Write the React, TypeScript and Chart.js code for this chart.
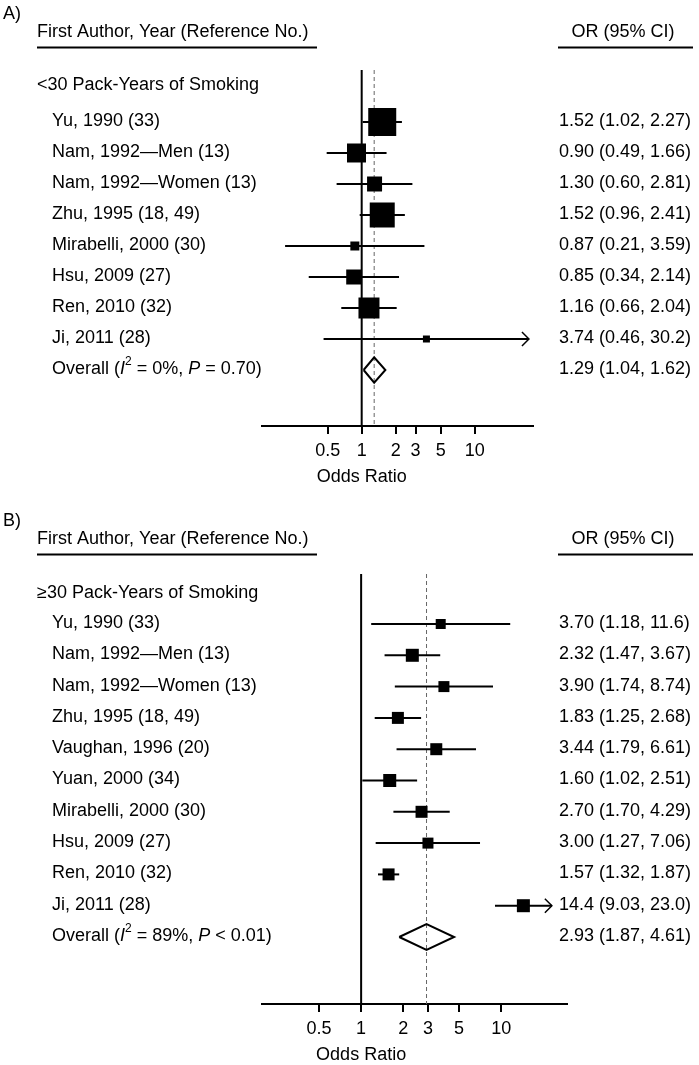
import React, { useEffect, useRef } from "react";
import { Chart, registerables } from "chart.js";

Chart.register(...registerables);

const FONT = '"Liberation Sans", Arial, Helvetica, sans-serif';

// ---------- Panel A data ----------
const sectionA = "<30 Pack-Years of Smoking";
const studiesA = [
  "Yu, 1990 (33)",
  "Nam, 1992\u2014Men (13)",
  "Nam, 1992\u2014Women (13)",
  "Zhu, 1995 (18, 49)",
  "Mirabelli, 2000 (30)",
  "Hsu, 2009 (27)",
  "Ren, 2010 (32)",
  "Ji, 2011 (28)",
];
const orA = [1.52, 0.9, 1.3, 1.52, 0.87, 0.85, 1.16, 3.74];
const lowerA = [1.02, 0.49, 0.6, 0.96, 0.21, 0.34, 0.66, 0.46];
const upperA = [2.27, 1.66, 2.81, 2.41, 3.59, 2.14, 2.04, 30.2];
const weightA = [28, 19, 15, 25, 9, 15, 21, 7];
const ciTextA = [
  "1.52 (1.02, 2.27)",
  "0.90 (0.49, 1.66)",
  "1.30 (0.60, 2.81)",
  "1.52 (0.96, 2.41)",
  "0.87 (0.21, 3.59)",
  "0.85 (0.34, 2.14)",
  "1.16 (0.66, 2.04)",
  "3.74 (0.46, 30.2)",
];
const arrowsA = [7];
const overallA = [1.29, 1.04, 1.62];
const overallTextA = "1.29 (1.04, 1.62)";
const i2A = "0%";
const pA = "= 0.70";

// ---------- Panel B data ----------
const sectionB = "\u226530 Pack-Years of Smoking";
const studiesB = [
  "Yu, 1990 (33)",
  "Nam, 1992\u2014Men (13)",
  "Nam, 1992\u2014Women (13)",
  "Zhu, 1995 (18, 49)",
  "Vaughan, 1996 (20)",
  "Yuan, 2000 (34)",
  "Mirabelli, 2000 (30)",
  "Hsu, 2009 (27)",
  "Ren, 2010 (32)",
  "Ji, 2011 (28)",
];
const orB = [3.7, 2.32, 3.9, 1.83, 3.44, 1.6, 2.7, 3.0, 1.57, 14.4];
const lowerB = [1.18, 1.47, 1.74, 1.25, 1.79, 1.02, 1.7, 1.27, 1.32, 9.03];
const upperB = [11.6, 3.67, 8.74, 2.68, 6.61, 2.51, 4.29, 7.06, 1.87, 23.0];
const weightB = [10, 13, 11, 12, 12, 13, 12, 11, 12, 13];
const ciTextB = [
  "3.70 (1.18, 11.6)",
  "2.32 (1.47, 3.67)",
  "3.90 (1.74, 8.74)",
  "1.83 (1.25, 2.68)",
  "3.44 (1.79, 6.61)",
  "1.60 (1.02, 2.51)",
  "2.70 (1.70, 4.29)",
  "3.00 (1.27, 7.06)",
  "1.57 (1.32, 1.87)",
  "14.4 (9.03, 23.0)",
];
const arrowsB = [9];
const overallB = [2.93, 1.87, 4.61];
const overallTextB = "2.93 (1.87, 4.61)";
const i2B = "89%";
const pB = "< 0.01";

// ---------- Axis ----------
const tickValues = [0.5, 1, 2, 3, 5, 10];
const tickLabels = ["0.5", "1", "2", "3", "5", "10"];
const axisTitle = "Odds Ratio";
const headerLeft = "First Author, Year (Reference No.)";
const headerRight = "OR (95% CI)";

type Panel = {
  letter: string;
  section: string;
  studies: string[];
  or: number[];
  lower: number[];
  upper: number[];
  weight: number[];
  ciText: string[];
  arrows: number[];
  overall: number[];
  overallText: string;
  i2: string;
  p: string;
  xMin: number;
  xMax: number;
  yMin: number;
  yMax: number;
  sectionRow: number;
  headerShift: number;
  areaTop: number;
  areaRight: number;
  scaleH: number;
  height: number;
};

const panelA: Panel = {
  letter: "A)",
  section: sectionA,
  studies: studiesA,
  or: orA,
  lower: lowerA,
  upper: upperA,
  weight: weightA,
  ciText: ciTextA,
  arrows: arrowsA,
  overall: overallA,
  overallText: overallTextA,
  i2: i2A,
  p: pA,
  xMin: 0.1312,
  xMax: 32.8,
  yMin: -1.677,
  yMax: 9.806,
  sectionRow: -1.19,
  headerShift: 0,
  areaTop: 70,
  areaRight: 533,
  scaleH: 74,
  height: 500,
};

const panelB: Panel = {
  letter: "B)",
  section: sectionB,
  studies: studiesB,
  or: orB,
  lower: lowerB,
  upper: upperB,
  weight: weightB,
  ciText: ciTextB,
  arrows: arrowsB,
  overall: overallB,
  overallText: overallTextB,
  i2: i2B,
  p: pB,
  xMin: 0.196,
  xMax: 29.5,
  yMin: -1.597,
  yMax: 12.14,
  sectionRow: -1.0,
  headerShift: 3,
  areaTop: 74,
  areaRight: 567,
  scaleH: 61,
  height: 565,
};

function makePlugin(p: Panel) {
  return {
    id: "forestText",
    afterDraw(chart: any) {
      const ctx = chart.ctx as CanvasRenderingContext2D;
      const xs = chart.scales.x;
      const ys = chart.scales.y;
      const area = chart.chartArea;
      const top = area.top + p.headerShift;
      ctx.save();
      ctx.fillStyle = "#000";
      ctx.strokeStyle = "#000";
      ctx.textBaseline = "middle";
      ctx.textAlign = "left";
      const normal = `18px ${FONT}`;
      const italic = `italic 18px ${FONT}`;
      ctx.font = normal;

      // panel letter
      ctx.fillText(p.letter, 3, top - 56);
      // headers
      ctx.fillText(headerLeft, 37, top - 38);
      const hw = ctx.measureText(headerRight).width;
      ctx.fillText(headerRight, 623 - hw / 2, top - 38);
      ctx.lineWidth = 2;
      ctx.beginPath();
      ctx.moveTo(37, top - 22.5);
      ctx.lineTo(317, top - 22.5);
      ctx.moveTo(558, top - 22.5);
      ctx.lineTo(693, top - 22.5);
      ctx.stroke();

      // section label
      ctx.fillText(p.section, 37, ys.getPixelForValue(p.sectionRow));

      // study rows
      p.studies.forEach((s, i) => {
        const y = ys.getPixelForValue(i) - 1;
        ctx.fillText(s, 52, y);
        ctx.fillText(p.ciText[i], 559, y);
      });

      // overall row
      const k = p.studies.length;
      const yo = ys.getPixelForValue(k) - 1;
      const parts: { t: string; f: string; dy?: number }[] = [
        { t: "Overall (", f: normal },
        { t: "I", f: italic },
        { t: "2", f: `12px ${FONT}`, dy: -7 },
        { t: ` = ${p.i2}, `, f: normal },
        { t: "P", f: italic },
        { t: ` ${p.p})`, f: normal },
      ];
      let cx = 52;
      for (const part of parts) {
        ctx.font = part.f;
        ctx.fillText(part.t, cx, yo + (part.dy || 0));
        cx += ctx.measureText(part.t).width;
      }
      ctx.font = normal;
      ctx.fillText(p.overallText, 559, yo);

      // arrowheads for truncated intervals
      ctx.lineWidth = 1.5;
      p.arrows.forEach((i) => {
        const xt = xs.getPixelForValue(p.upper[i]);
        const y = ys.getPixelForValue(i);
        ctx.beginPath();
        ctx.moveTo(xt - 7, y - 7);
        ctx.lineTo(xt, y);
        ctx.lineTo(xt - 7, y + 7);
        ctx.stroke();
      });

      // axis title centred on OR = 1
      ctx.font = normal;
      ctx.textAlign = "center";
      ctx.fillText(axisTitle, xs.getPixelForValue(1), area.bottom + 51);
      ctx.restore();
    },
  };
}

function buildConfig(p: Panel): any {
  const k = p.studies.length;
  const [ov, ol, oh] = p.overall;
  const h = 0.41;
  const datasets: any[] = [];
  datasets.push({
    data: p.or.map((v, i) => ({ x: v, y: i })),
    showLine: false,
    pointStyle: "rect",
    pointRadius: p.weight.map((w) => w / Math.SQRT2),
    pointHoverRadius: p.weight.map((w) => w / Math.SQRT2),
    backgroundColor: "#000",
    borderColor: "#000",
    borderWidth: 0,
    order: 0,
  });
  p.or.forEach((_, i) => {
    datasets.push({
      data: [
        { x: p.lower[i], y: i },
        { x: p.upper[i], y: i },
      ],
      showLine: true,
      borderColor: "#000",
      borderWidth: 2,
      pointRadius: 0,
      order: 1,
    });
  });
  datasets.push({
    data: [
      { x: ol, y: k },
      { x: ov, y: k - h },
      { x: oh, y: k },
      { x: ov, y: k + h },
      { x: ol, y: k },
    ],
    showLine: true,
    borderColor: "#000",
    borderWidth: 2,
    pointRadius: 0,
    fill: false,
    order: 1,
  });
  datasets.push({
    data: [
      { x: 1, y: p.yMin },
      { x: 1, y: p.yMax },
    ],
    showLine: true,
    borderColor: "#000",
    borderWidth: 2,
    pointRadius: 0,
    order: 2,
  });
  datasets.push({
    data: [
      { x: ov, y: p.yMin },
      { x: ov, y: p.yMax },
    ],
    showLine: true,
    borderColor: "#666",
    borderWidth: 1,
    borderDash: [4, 3],
    pointRadius: 0,
    order: 3,
  });

  return {
    type: "scatter",
    data: { datasets },
    options: {
      responsive: false,
      animation: false,
      devicePixelRatio: 1,
      events: [],
      layout: {
        padding: { left: 262, right: 699 - p.areaRight, top: p.areaTop, bottom: 0 },
      },
      plugins: {
        legend: { display: false },
        tooltip: { enabled: false },
      },
      scales: {
        x: {
          type: "logarithmic",
          position: "bottom",
          min: p.xMin,
          max: p.xMax,
          afterBuildTicks: (s: any) => {
            s.ticks = tickValues.map((v) => ({ value: v }));
          },
          afterFit: (s: any) => {
            s.height = p.scaleH;
          },
          ticks: {
            autoSkip: false,
            maxRotation: 0,
            minRotation: 0,
            padding: 6,
            color: "#000",
            font: { family: FONT, size: 18 },
            callback: (_v: any, i: number) => tickLabels[i],
          },
          grid: {
            drawOnChartArea: false,
            drawTicks: true,
            tickLength: 8,
            color: "#000",
            lineWidth: 2,
          },
          border: { display: true, color: "#000", width: 2 },
        },
        y: {
          type: "linear",
          display: false,
          reverse: true,
          min: p.yMin,
          max: p.yMax,
        },
      },
    },
    plugins: [makePlugin(p)],
  };
}

function ForestPanel({ p, top }: { p: Panel; top: number }) {
  const ref = useRef<HTMLCanvasElement | null>(null);
  useEffect(() => {
    if (!ref.current) return;
    const chart = new Chart(ref.current, buildConfig(p));
    return () => chart.destroy();
  }, [p]);
  return (
    <canvas
      ref={ref}
      width={699}
      height={p.height}
      style={{ position: "absolute", left: 0, top, width: 699, height: p.height }}
    />
  );
}

export default function App() {
  return (
    <div
      style={{
        position: "absolute",
        left: 0,
        top: 0,
        width: 699,
        height: 1065,
        background: "#fff",
      }}
    >
      <ForestPanel p={panelA} top={0} />
      <ForestPanel p={panelB} top={500} />
    </div>
  );
}
